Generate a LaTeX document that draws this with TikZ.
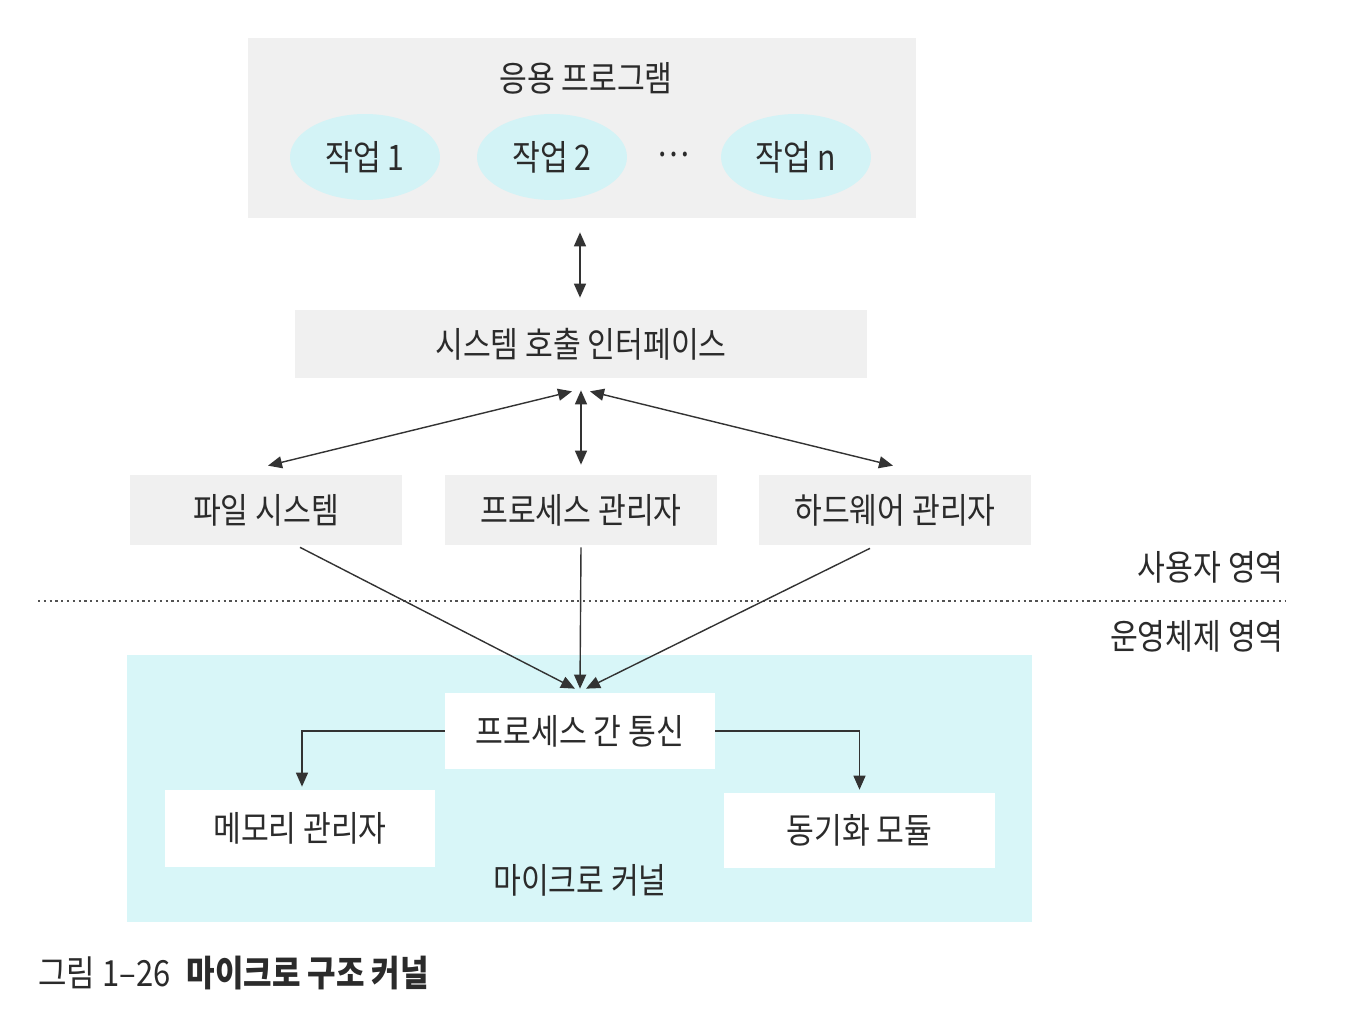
\documentclass[tikz,border=0pt]{standalone}
\usepackage{fontspec}
\setmainfont{Noto Sans CJK KR}[FakeStretch=0.86]
\usetikzlibrary{arrows.meta,calc,shapes.geometric}
\definecolor{boxgray}{HTML}{F0F0F0}
\definecolor{lightcyan}{HTML}{D3F3F6}
\definecolor{kernelcyan}{HTML}{D8F6F8}
\definecolor{txt}{HTML}{2B2B2B}
\definecolor{linec}{HTML}{333333}
\tikzset{
  lbl/.style={text=txt, font=\fontsize{20}{22}\selectfont, inner sep=0pt},
  graybox/.style={fill=boxgray, draw=none, text=txt, font=\fontsize{20}{22}\selectfont},
  taskell/.style={ellipse, fill=lightcyan, draw=none, minimum width=3cm, minimum height=1.72cm, inner sep=0pt, text=txt, font=\fontsize{20}{22}\selectfont},
  whitebox/.style={fill=white, draw=none, text=txt, font=\fontsize{20}{22}\selectfont},
  conn/.style={draw=linec, line width=0.8pt},
  arr/.style={conn, -{Triangle[length=0.28cm,width=0.24cm]}},
  dbl/.style={conn, {Triangle[length=0.28cm,width=0.24cm]}-{Triangle[length=0.28cm,width=0.24cm]}},
}
\begin{document}
\begin{tikzpicture}[x=0.02cm,y=-0.02cm]
\useasboundingbox[fill=white] (0,0) rectangle (1350,1028);

% application area
\node[graybox, minimum width=13.36cm, minimum height=3.6cm] (app) at (582,128) {};
\node[lbl] (apptitle) at (586,78) {응용 프로그램};
\node[taskell] (t1) at (365,157) {작업 1};
\node[taskell] (t2) at (552,157) {작업 2};
\node[lbl] (dots) at (673,155) {…};
\node[taskell] (tn) at (796,157) {작업 n};

% system call interface
\node[graybox, minimum width=11.46cm, minimum height=1.36cm] (sci) at (581,344) {시스템 호출 인터페이스};

% services
\node[graybox, minimum width=5.44cm, minimum height=1.4cm] (fs) at (266,510) {파일 시스템};
\node[graybox, minimum width=5.44cm, minimum height=1.4cm] (pm) at (581,510) {프로세스 관리자};
\node[graybox, minimum width=5.44cm, minimum height=1.4cm] (hw) at (895,510) {하드웨어 관리자};

% kernel area
\node[fill=kernelcyan, draw=none, minimum width=18.1cm, minimum height=5.34cm] (kernel) at (579.5,788.5) {};
\node[whitebox, minimum width=5.4cm, minimum height=1.52cm] (ipc) at (580,731) {프로세스 간 통신};
\node[whitebox, minimum width=5.4cm, minimum height=1.54cm] (mem) at (300,828.5) {메모리 관리자};
\node[whitebox, minimum width=5.42cm, minimum height=1.5cm] (sync) at (859.5,830.5) {동기화 모듈};
\node[lbl] (kname) at (580,880) {마이크로 커널};

% region separator
\coordinate (sepL) at (38,601);
\coordinate (sepR) at (1285,601);
\draw[draw=linec!85, line width=1.5pt, dash pattern=on 1.3pt off 2pt] (sepL) -- (sepR);
\node[lbl, anchor=east] (user) at (1284,567) {사용자 영역};
\node[lbl, anchor=east] (os) at (1284,636) {운영체제 영역};

% connectors
\draw[dbl] ($(app.south)+(-2,14)$) -- ($(sci.north)+(-1,-12)$);
\draw[dbl] ($(sci.south)+(-9,13)$) -- ($(fs.north)+(2,-9)$);
\draw[dbl] ($(sci.south)+(0,12)$) -- ($(pm.north)+(0,-10)$);
\draw[dbl] ($(sci.south)+(9,13)$) -- ($(hw.north)+(-2,-9)$);

\draw[arr] ($(fs.south)+(34,2)$) -- ($(ipc.north)+(-5,-4)$);
\draw[arr] ($(pm.south)+(0,2)$) -- ($(ipc.north)+(0,-4)$);
\draw[arr] ($(hw.south)+(-25,3)$) -- ($(ipc.north)+(6,-4)$);

\draw[arr, shorten >=0.06cm] (ipc.west) -| ($(mem.north)+(2,0)$);
\draw[arr, shorten >=0.06cm] (ipc.east) -| ($(sync.north)+(0,0)$);

% caption
\node[lbl, anchor=west, font=\fontsize{20.5}{23}\selectfont] (cap) at (38,973) {그림 1–26\hspace{0.45em}\textbf{마이크로 구조 커널}};
\end{tikzpicture}
\end{document}
